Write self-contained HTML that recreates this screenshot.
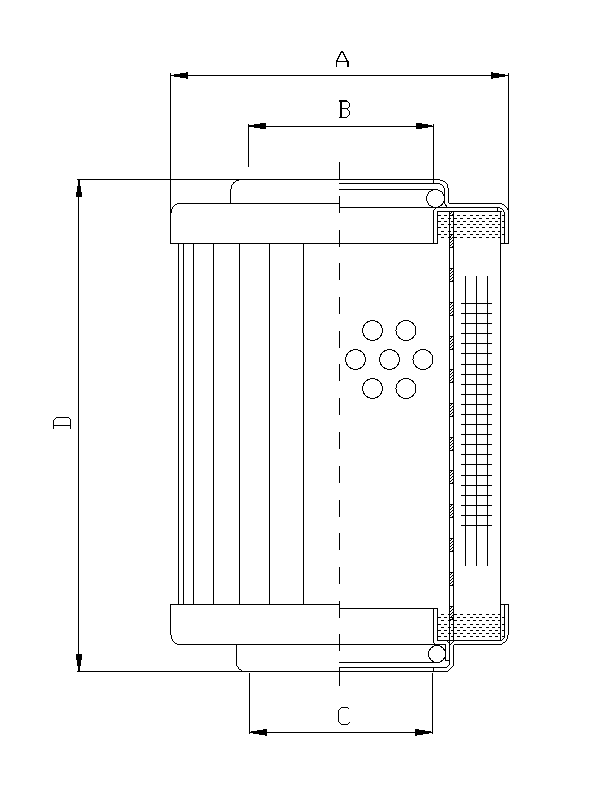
<!DOCTYPE html>
<html><head><meta charset="utf-8"><title>Filter element drawing</title>
<style>html,body{margin:0;padding:0;background:#fff;width:612px;height:792px;overflow:hidden;font-family:"Liberation Sans",sans-serif;}svg{display:block}</style>
</head><body>
<svg width="612" height="792" viewBox="0 0 612 792">
<rect width="612" height="792" fill="#fff"/>
<g fill="#000"><rect x="174" y="74" width="6" height="3"/><rect x="180" y="73" width="6" height="5"/><rect x="186" y="72" width="2" height="7"/><rect x="491" y="72" width="2" height="7"/><rect x="493" y="73" width="6" height="5"/><rect x="499" y="74" width="6" height="3"/><rect x="249" y="125" width="5" height="2"/><rect x="254" y="124" width="6" height="4"/><rect x="260" y="123" width="6" height="6"/><rect x="416" y="123" width="6" height="6"/><rect x="422" y="124" width="6" height="4"/><rect x="428" y="125" width="4" height="2"/><rect x="78" y="180" width="2" height="6"/><rect x="77" y="186" width="4" height="6"/><rect x="76" y="192" width="6" height="5"/><rect x="76" y="654" width="6" height="6"/><rect x="77" y="660" width="4" height="6"/><rect x="78" y="666" width="2" height="6"/><rect x="251" y="731" width="2" height="2"/><rect x="253" y="731" width="4" height="3"/><rect x="257" y="730" width="2" height="4"/><rect x="259" y="730" width="4" height="5"/><rect x="263" y="729" width="2" height="6"/><rect x="265" y="729" width="2" height="7"/><rect x="415" y="729" width="2" height="7"/><rect x="417" y="729" width="2" height="6"/><rect x="419" y="730" width="4" height="5"/><rect x="423" y="730" width="2" height="4"/><rect x="425" y="731" width="4" height="3"/><rect x="429" y="731" width="2" height="2"/><rect x="449" y="234" width="5" height="1"/><rect x="449" y="247" width="5" height="1"/><rect x="451" y="235" width="1" height="1"/><rect x="450" y="236" width="1" height="1"/><rect x="452" y="237" width="1" height="1"/><rect x="451" y="238" width="1" height="1"/><rect x="450" y="239" width="1" height="1"/><rect x="452" y="240" width="1" height="1"/><rect x="451" y="241" width="1" height="1"/><rect x="450" y="242" width="1" height="1"/><rect x="452" y="243" width="1" height="1"/><rect x="451" y="244" width="1" height="1"/><rect x="450" y="245" width="1" height="1"/><rect x="452" y="246" width="1" height="1"/><rect x="449" y="268" width="5" height="1"/><rect x="449" y="281" width="5" height="1"/><rect x="451" y="269" width="1" height="1"/><rect x="450" y="270" width="1" height="1"/><rect x="452" y="271" width="1" height="1"/><rect x="451" y="272" width="1" height="1"/><rect x="450" y="273" width="1" height="1"/><rect x="452" y="274" width="1" height="1"/><rect x="451" y="275" width="1" height="1"/><rect x="450" y="276" width="1" height="1"/><rect x="452" y="277" width="1" height="1"/><rect x="451" y="278" width="1" height="1"/><rect x="450" y="279" width="1" height="1"/><rect x="452" y="280" width="1" height="1"/><rect x="449" y="302" width="5" height="1"/><rect x="449" y="315" width="5" height="1"/><rect x="451" y="303" width="1" height="1"/><rect x="450" y="304" width="1" height="1"/><rect x="452" y="305" width="1" height="1"/><rect x="451" y="306" width="1" height="1"/><rect x="450" y="307" width="1" height="1"/><rect x="452" y="308" width="1" height="1"/><rect x="451" y="309" width="1" height="1"/><rect x="450" y="310" width="1" height="1"/><rect x="452" y="311" width="1" height="1"/><rect x="451" y="312" width="1" height="1"/><rect x="450" y="313" width="1" height="1"/><rect x="452" y="314" width="1" height="1"/><rect x="449" y="336" width="5" height="1"/><rect x="449" y="349" width="5" height="1"/><rect x="451" y="337" width="1" height="1"/><rect x="450" y="338" width="1" height="1"/><rect x="452" y="339" width="1" height="1"/><rect x="451" y="340" width="1" height="1"/><rect x="450" y="341" width="1" height="1"/><rect x="452" y="342" width="1" height="1"/><rect x="451" y="343" width="1" height="1"/><rect x="450" y="344" width="1" height="1"/><rect x="452" y="345" width="1" height="1"/><rect x="451" y="346" width="1" height="1"/><rect x="450" y="347" width="1" height="1"/><rect x="452" y="348" width="1" height="1"/><rect x="449" y="369" width="5" height="1"/><rect x="449" y="382" width="5" height="1"/><rect x="451" y="370" width="1" height="1"/><rect x="450" y="371" width="1" height="1"/><rect x="452" y="372" width="1" height="1"/><rect x="451" y="373" width="1" height="1"/><rect x="450" y="374" width="1" height="1"/><rect x="452" y="375" width="1" height="1"/><rect x="451" y="376" width="1" height="1"/><rect x="450" y="377" width="1" height="1"/><rect x="452" y="378" width="1" height="1"/><rect x="451" y="379" width="1" height="1"/><rect x="450" y="380" width="1" height="1"/><rect x="452" y="381" width="1" height="1"/><rect x="449" y="403" width="5" height="1"/><rect x="449" y="416" width="5" height="1"/><rect x="451" y="404" width="1" height="1"/><rect x="450" y="405" width="1" height="1"/><rect x="452" y="406" width="1" height="1"/><rect x="451" y="407" width="1" height="1"/><rect x="450" y="408" width="1" height="1"/><rect x="452" y="409" width="1" height="1"/><rect x="451" y="410" width="1" height="1"/><rect x="450" y="411" width="1" height="1"/><rect x="452" y="412" width="1" height="1"/><rect x="451" y="413" width="1" height="1"/><rect x="450" y="414" width="1" height="1"/><rect x="452" y="415" width="1" height="1"/><rect x="449" y="437" width="5" height="1"/><rect x="449" y="450" width="5" height="1"/><rect x="451" y="438" width="1" height="1"/><rect x="450" y="439" width="1" height="1"/><rect x="452" y="440" width="1" height="1"/><rect x="451" y="441" width="1" height="1"/><rect x="450" y="442" width="1" height="1"/><rect x="452" y="443" width="1" height="1"/><rect x="451" y="444" width="1" height="1"/><rect x="450" y="445" width="1" height="1"/><rect x="452" y="446" width="1" height="1"/><rect x="451" y="447" width="1" height="1"/><rect x="450" y="448" width="1" height="1"/><rect x="452" y="449" width="1" height="1"/><rect x="449" y="470" width="5" height="1"/><rect x="449" y="483" width="5" height="1"/><rect x="451" y="471" width="1" height="1"/><rect x="450" y="472" width="1" height="1"/><rect x="452" y="473" width="1" height="1"/><rect x="451" y="474" width="1" height="1"/><rect x="450" y="475" width="1" height="1"/><rect x="452" y="476" width="1" height="1"/><rect x="451" y="477" width="1" height="1"/><rect x="450" y="478" width="1" height="1"/><rect x="452" y="479" width="1" height="1"/><rect x="451" y="480" width="1" height="1"/><rect x="450" y="481" width="1" height="1"/><rect x="452" y="482" width="1" height="1"/><rect x="449" y="504" width="5" height="1"/><rect x="449" y="517" width="5" height="1"/><rect x="451" y="505" width="1" height="1"/><rect x="450" y="506" width="1" height="1"/><rect x="452" y="507" width="1" height="1"/><rect x="451" y="508" width="1" height="1"/><rect x="450" y="509" width="1" height="1"/><rect x="452" y="510" width="1" height="1"/><rect x="451" y="511" width="1" height="1"/><rect x="450" y="512" width="1" height="1"/><rect x="452" y="513" width="1" height="1"/><rect x="451" y="514" width="1" height="1"/><rect x="450" y="515" width="1" height="1"/><rect x="452" y="516" width="1" height="1"/><rect x="449" y="538" width="5" height="1"/><rect x="449" y="551" width="5" height="1"/><rect x="451" y="539" width="1" height="1"/><rect x="450" y="540" width="1" height="1"/><rect x="452" y="541" width="1" height="1"/><rect x="451" y="542" width="1" height="1"/><rect x="450" y="543" width="1" height="1"/><rect x="452" y="544" width="1" height="1"/><rect x="451" y="545" width="1" height="1"/><rect x="450" y="546" width="1" height="1"/><rect x="452" y="547" width="1" height="1"/><rect x="451" y="548" width="1" height="1"/><rect x="450" y="549" width="1" height="1"/><rect x="452" y="550" width="1" height="1"/><rect x="449" y="572" width="5" height="1"/><rect x="449" y="585" width="5" height="1"/><rect x="451" y="573" width="1" height="1"/><rect x="450" y="574" width="1" height="1"/><rect x="452" y="575" width="1" height="1"/><rect x="451" y="576" width="1" height="1"/><rect x="450" y="577" width="1" height="1"/><rect x="452" y="578" width="1" height="1"/><rect x="451" y="579" width="1" height="1"/><rect x="450" y="580" width="1" height="1"/><rect x="452" y="581" width="1" height="1"/><rect x="451" y="582" width="1" height="1"/><rect x="450" y="583" width="1" height="1"/><rect x="452" y="584" width="1" height="1"/><rect x="449" y="606" width="5" height="1"/><rect x="449" y="619" width="5" height="1"/><rect x="451" y="607" width="1" height="1"/><rect x="450" y="608" width="1" height="1"/><rect x="452" y="609" width="1" height="1"/><rect x="451" y="610" width="1" height="1"/><rect x="450" y="611" width="1" height="1"/><rect x="452" y="612" width="1" height="1"/><rect x="451" y="613" width="1" height="1"/><rect x="450" y="614" width="1" height="1"/><rect x="452" y="615" width="1" height="1"/><rect x="451" y="616" width="1" height="1"/><rect x="450" y="617" width="1" height="1"/><rect x="452" y="618" width="1" height="1"/><rect x="449" y="211" width="5" height="1"/><rect x="449" y="215" width="5" height="1"/><rect x="451" y="212" width="1" height="1"/><rect x="450" y="213" width="1" height="1"/><rect x="452" y="214" width="1" height="1"/><rect x="438" y="215" width="3" height="1"/><rect x="444" y="215" width="3" height="1"/><rect x="451" y="215" width="3" height="1"/><rect x="457" y="215" width="3" height="1"/><rect x="463" y="215" width="3" height="1"/><rect x="470" y="215" width="3" height="1"/><rect x="476" y="215" width="3" height="1"/><rect x="482" y="215" width="3" height="1"/><rect x="489" y="215" width="3" height="1"/><rect x="495" y="215" width="3" height="1"/><rect x="502" y="215" width="2" height="1"/><rect x="441" y="218" width="3" height="1"/><rect x="448" y="218" width="3" height="1"/><rect x="454" y="218" width="3" height="1"/><rect x="460" y="218" width="3" height="1"/><rect x="467" y="218" width="3" height="1"/><rect x="473" y="218" width="3" height="1"/><rect x="479" y="218" width="3" height="1"/><rect x="486" y="218" width="3" height="1"/><rect x="492" y="218" width="3" height="1"/><rect x="498" y="218" width="3" height="1"/><rect x="438" y="221" width="3" height="1"/><rect x="444" y="221" width="3" height="1"/><rect x="451" y="221" width="3" height="1"/><rect x="457" y="221" width="3" height="1"/><rect x="463" y="221" width="3" height="1"/><rect x="470" y="221" width="3" height="1"/><rect x="476" y="221" width="3" height="1"/><rect x="482" y="221" width="3" height="1"/><rect x="489" y="221" width="3" height="1"/><rect x="495" y="221" width="3" height="1"/><rect x="502" y="221" width="2" height="1"/><rect x="441" y="224" width="3" height="1"/><rect x="448" y="224" width="3" height="1"/><rect x="454" y="224" width="3" height="1"/><rect x="460" y="224" width="3" height="1"/><rect x="467" y="224" width="3" height="1"/><rect x="473" y="224" width="3" height="1"/><rect x="479" y="224" width="3" height="1"/><rect x="486" y="224" width="3" height="1"/><rect x="492" y="224" width="3" height="1"/><rect x="498" y="224" width="3" height="1"/><rect x="438" y="227" width="3" height="1"/><rect x="444" y="227" width="3" height="1"/><rect x="451" y="227" width="3" height="1"/><rect x="457" y="227" width="3" height="1"/><rect x="463" y="227" width="3" height="1"/><rect x="470" y="227" width="3" height="1"/><rect x="476" y="227" width="3" height="1"/><rect x="482" y="227" width="3" height="1"/><rect x="489" y="227" width="3" height="1"/><rect x="495" y="227" width="3" height="1"/><rect x="502" y="227" width="2" height="1"/><rect x="441" y="231" width="3" height="1"/><rect x="448" y="231" width="3" height="1"/><rect x="454" y="231" width="3" height="1"/><rect x="460" y="231" width="3" height="1"/><rect x="467" y="231" width="3" height="1"/><rect x="473" y="231" width="3" height="1"/><rect x="479" y="231" width="3" height="1"/><rect x="486" y="231" width="3" height="1"/><rect x="492" y="231" width="3" height="1"/><rect x="498" y="231" width="3" height="1"/><rect x="438" y="234" width="3" height="1"/><rect x="444" y="234" width="3" height="1"/><rect x="451" y="234" width="3" height="1"/><rect x="457" y="234" width="3" height="1"/><rect x="463" y="234" width="3" height="1"/><rect x="470" y="234" width="3" height="1"/><rect x="476" y="234" width="3" height="1"/><rect x="482" y="234" width="3" height="1"/><rect x="489" y="234" width="3" height="1"/><rect x="495" y="234" width="3" height="1"/><rect x="502" y="234" width="2" height="1"/><rect x="441" y="237" width="3" height="1"/><rect x="448" y="237" width="3" height="1"/><rect x="454" y="237" width="3" height="1"/><rect x="460" y="237" width="3" height="1"/><rect x="467" y="237" width="3" height="1"/><rect x="473" y="237" width="3" height="1"/><rect x="479" y="237" width="3" height="1"/><rect x="486" y="237" width="3" height="1"/><rect x="492" y="237" width="3" height="1"/><rect x="498" y="237" width="3" height="1"/><rect x="441" y="614" width="3" height="1"/><rect x="448" y="614" width="3" height="1"/><rect x="454" y="614" width="3" height="1"/><rect x="460" y="614" width="3" height="1"/><rect x="467" y="614" width="3" height="1"/><rect x="473" y="614" width="3" height="1"/><rect x="479" y="614" width="3" height="1"/><rect x="486" y="614" width="3" height="1"/><rect x="492" y="614" width="3" height="1"/><rect x="498" y="614" width="3" height="1"/><rect x="438" y="617" width="3" height="1"/><rect x="444" y="617" width="3" height="1"/><rect x="451" y="617" width="3" height="1"/><rect x="457" y="617" width="3" height="1"/><rect x="463" y="617" width="3" height="1"/><rect x="470" y="617" width="3" height="1"/><rect x="476" y="617" width="3" height="1"/><rect x="482" y="617" width="3" height="1"/><rect x="489" y="617" width="3" height="1"/><rect x="495" y="617" width="3" height="1"/><rect x="502" y="617" width="2" height="1"/><rect x="441" y="620" width="3" height="1"/><rect x="448" y="620" width="3" height="1"/><rect x="454" y="620" width="3" height="1"/><rect x="460" y="620" width="3" height="1"/><rect x="467" y="620" width="3" height="1"/><rect x="473" y="620" width="3" height="1"/><rect x="479" y="620" width="3" height="1"/><rect x="486" y="620" width="3" height="1"/><rect x="492" y="620" width="3" height="1"/><rect x="498" y="620" width="3" height="1"/><rect x="438" y="624" width="3" height="1"/><rect x="444" y="624" width="3" height="1"/><rect x="451" y="624" width="3" height="1"/><rect x="457" y="624" width="3" height="1"/><rect x="463" y="624" width="3" height="1"/><rect x="470" y="624" width="3" height="1"/><rect x="476" y="624" width="3" height="1"/><rect x="482" y="624" width="3" height="1"/><rect x="489" y="624" width="3" height="1"/><rect x="495" y="624" width="3" height="1"/><rect x="502" y="624" width="2" height="1"/><rect x="441" y="627" width="3" height="1"/><rect x="448" y="627" width="3" height="1"/><rect x="454" y="627" width="3" height="1"/><rect x="460" y="627" width="3" height="1"/><rect x="467" y="627" width="3" height="1"/><rect x="473" y="627" width="3" height="1"/><rect x="479" y="627" width="3" height="1"/><rect x="486" y="627" width="3" height="1"/><rect x="492" y="627" width="3" height="1"/><rect x="498" y="627" width="3" height="1"/><rect x="438" y="630" width="3" height="1"/><rect x="444" y="630" width="3" height="1"/><rect x="451" y="630" width="3" height="1"/><rect x="457" y="630" width="3" height="1"/><rect x="463" y="630" width="3" height="1"/><rect x="470" y="630" width="3" height="1"/><rect x="476" y="630" width="3" height="1"/><rect x="482" y="630" width="3" height="1"/><rect x="489" y="630" width="3" height="1"/><rect x="495" y="630" width="3" height="1"/><rect x="502" y="630" width="2" height="1"/><rect x="441" y="633" width="3" height="1"/><rect x="448" y="633" width="3" height="1"/><rect x="454" y="633" width="3" height="1"/><rect x="460" y="633" width="3" height="1"/><rect x="467" y="633" width="3" height="1"/><rect x="473" y="633" width="3" height="1"/><rect x="479" y="633" width="3" height="1"/><rect x="486" y="633" width="3" height="1"/><rect x="492" y="633" width="3" height="1"/><rect x="498" y="633" width="3" height="1"/><rect x="438" y="636" width="3" height="1"/><rect x="444" y="636" width="3" height="1"/><rect x="451" y="636" width="3" height="1"/><rect x="457" y="636" width="3" height="1"/><rect x="463" y="636" width="3" height="1"/><rect x="470" y="636" width="3" height="1"/><rect x="476" y="636" width="3" height="1"/><rect x="482" y="636" width="3" height="1"/><rect x="489" y="636" width="3" height="1"/><rect x="495" y="636" width="3" height="1"/><rect x="502" y="636" width="2" height="1"/></g>
<g transform="translate(0.5,0.5)" fill="none" stroke="#000" stroke-width="1" stroke-linecap="square" shape-rendering="crispEdges">
<path d="M170,75 L508,75"/>
<path d="M170,73 L170,243"/>
<path d="M508,73 L508,243"/>
<path d="M248,126 L433,126"/>
<path d="M248,124 L248,166"/>
<path d="M433,124 L433,183"/>
<path d="M78,180 L78,671"/>
<path d="M77,179 L439,179"/>
<path d="M77,671 L447,671"/>
<path d="M249,732 L432,732"/>
<path d="M249,673 L249,733"/>
<path d="M432,673 L432,733"/>
<path d="M339,162 L339,178"/>
<path d="M339,196 L339,212"/>
<path d="M339,230 L339,246"/>
<path d="M339,263 L339,279"/>
<path d="M339,297 L339,313"/>
<path d="M339,331 L339,347"/>
<path d="M339,364 L339,380"/>
<path d="M339,398 L339,414"/>
<path d="M339,432 L339,448"/>
<path d="M339,466 L339,482"/>
<path d="M339,500 L339,516"/>
<path d="M339,533 L339,549"/>
<path d="M339,567 L339,583"/>
<path d="M339,601 L339,617"/>
<path d="M339,634 L339,650"/>
<path d="M339,668 L339,685"/>
<path d="M339,203 H177 L176,204 H175 L174,205 L173,206 L172,207 V208 L171,209 V212 L170,213 V243"/>
<path d="M230,203 V189 L231,188 V185 L232,184 L233,183 V182 H234 L235,181 L236,180 H238 L239,179"/>
<path d="M170,243 L437,243"/>
<path d="M178,243 L178,604"/>
<path d="M183,243 L183,604"/>
<path d="M193,243 L193,604"/>
<path d="M213,243 L213,604"/>
<path d="M239,243 L239,604"/>
<path d="M269,243 L269,604"/>
<path d="M303,243 L303,604"/>
<path d="M439,179 L440,180 H442 L443,181 H444 L445,182 L446,183 L447,184 V187 L448,188 V202 L449,203 H501 L502,204 H503 L504,205 L505,206 L506,207 L507,208 V209 L508,210"/>
<path d="M339,183 H439 L440,184 H441 L442,185 L443,186 V187 L444,188 V203 L447,207"/>
<path d="M339,189 L436,189"/>
<path d="M339,207 H499 L500,208 H501 L502,209 L503,210 V211 L504,212 V243"/>
<circle cx="435" cy="198" r="9"/>
<path d="M433,243 V210 L435,208"/>
<path d="M437,243 V211 H501"/>
<path d="M497,207 L497,211"/>
<path d="M500,211 L500,640"/>
<path d="M500,243 L508,243"/>
<path d="M449,211 L449,640"/>
<path d="M453,211 L453,640"/>
<path d="M339,604 H170 V634 L171,635 V638 L172,639 V640 L173,641 L174,642 L175,643 H176 L177,644 H445"/>
<path d="M236,644 V665 L237,666 L238,667 V668 L239,669 H240 L241,670 L242,671"/>
<path d="M339,608 L437,608"/>
<path d="M433,608 V642 L435,644"/>
<path d="M433,667 L433,671"/>
<path d="M437,608 V640 H500"/>
<path d="M500,604 H508 V634 L507,635 V638 L506,639 V640 L505,641 L504,642 H503 L502,643 L501,644 H455 A2,2 0 0 0 453,646 V665 L447,671"/>
<path d="M447,641 L450,644 L453,641"/>
<path d="M504,604 V637 L503,638 L502,639 L501,640"/>
<path d="M445,644 V660 H449"/>
<path d="M449,640 V664 L446,667 H339"/>
<path d="M339,662 L439,662"/>
<circle cx="436.5" cy="653.5" r="8.5"/>
<circle cx="372.0" cy="330.0" r="10"/>
<circle cx="405.5" cy="330.0" r="10"/>
<circle cx="355.0" cy="359.0" r="10"/>
<circle cx="389.0" cy="359.0" r="10"/>
<circle cx="422.5" cy="359.0" r="10"/>
<circle cx="372.0" cy="388.0" r="10"/>
<circle cx="405.5" cy="388.0" r="10"/>
<path d="M465,276 L465,565"/>
<path d="M476,276 L476,565"/>
<path d="M487,276 L487,565"/>
<path d="M461,303 L491,303"/>
<path d="M461,313 L491,313"/>
<path d="M461,323 L491,323"/>
<path d="M461,333 L491,333"/>
<path d="M461,343 L491,343"/>
<path d="M461,353 L491,353"/>
<path d="M461,364 L491,364"/>
<path d="M461,374 L491,374"/>
<path d="M461,384 L491,384"/>
<path d="M461,394 L491,394"/>
<path d="M461,404 L491,404"/>
<path d="M461,414 L491,414"/>
<path d="M461,424 L491,424"/>
<path d="M461,434 L491,434"/>
<path d="M461,444 L491,444"/>
<path d="M461,454 L491,454"/>
<path d="M461,464 L491,464"/>
<path d="M461,475 L491,475"/>
<path d="M461,485 L491,485"/>
<path d="M461,495 L491,495"/>
<path d="M461,505 L491,505"/>
<path d="M461,515 L491,515"/>
<path d="M461,525 L491,525"/>
</g>
<g transform="translate(0.5,0.5)" fill="none" stroke="#000" stroke-width="1" stroke-dasharray="3 3.3" shape-rendering="crispEdges">
</g>
<g transform="translate(0.5,0.5)" fill="none" stroke="#000" stroke-width="0.8">
</g>
<g transform="translate(0.5,0.5)" fill="none" stroke="#000" stroke-width="1" shape-rendering="crispEdges">
<path d="M336,66 V61 L341,51 H342 L347,61 V66 M336,61 H348 M348,61 V66"/>
<path d="M338,100 H346 L349,103 V106 L347,108 H341 M347,109 L349,111 V114 L346,117 H338 M340,100 V117 M341,100 V117 M338,101 H346"/>
<path d="M53,428 V420 L56,417 H68 L70,419 V428 M53,425 H70"/>
<path d="M349,709 L347,707 H341 L338,710 V721 L341,724 H347 L349,722"/>
</g>
</svg>
</body></html>
